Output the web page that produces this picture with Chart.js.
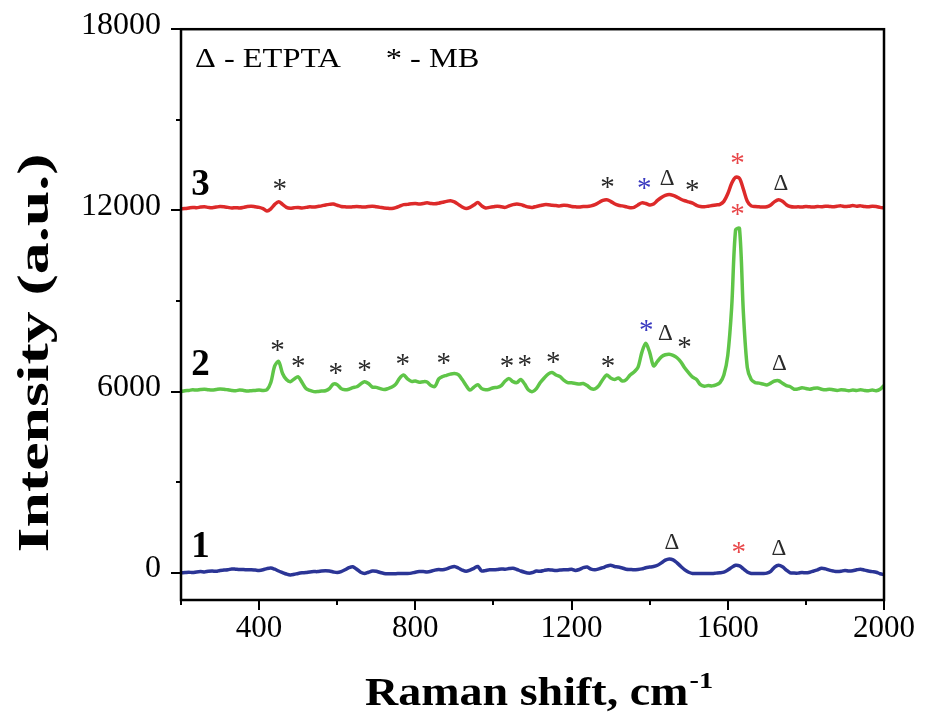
<!DOCTYPE html>
<html>
<head>
<meta charset="utf-8">
<script src="https://cdn.jsdelivr.net/npm/chart.js@4/dist/chart.umd.min.js"></script>
<style>
  html, body { margin: 0; padding: 0; background: #fff; }
  #wrap { width: 934px; height: 716px; }
</style>
</head>
<body>
<div id="wrap"><canvas id="c" width="934" height="716"></canvas></div>
<script>
// Raman shift sampling (cm^-1), 200 … 2000 every 10
const shift = Array.from({ length: 181 }, (_, i) => 200 + 10 * i);

// Spectrum 1 (blue)
const spectrum1 = [
  0, 10, 20, 10, 30, 40, 30, 50, 60, 50,
  80, 90, 100, 130, 120, 110, 110, 100, 100, 90,
  80, 100, 140, 160, 120, 60, 10, -40, -70, -50,
  -20, 0, 10, 30, 40, 40, 60, 70, 60, 30,
  10, 40, 100, 170, 200, 120, 20, -20, 20, 60,
  50, 10, -20, -30, -30, -30, -20, -20, -20, -10,
  20, 40, 40, 30, 50, 90, 110, 100, 130, 180,
  210, 160, 90, 50, 90, 150, 210, 60, 80, 100,
  100, 110, 130, 120, 140, 150, 110, 60, 20, -10,
  10, 60, 50, 80, 100, 90, 80, 90, 100, 100,
  120, 80, 110, 170, 190, 120, 100, 130, 170, 220,
  250, 210, 190, 160, 120, 110, 100, 110, 130, 170,
  190, 210, 250, 330, 420, 460, 430, 330, 210, 100,
  20, -20, -20, -20, -20, -20, -20, -10, 0, 20,
  90, 180, 250, 230, 130, 30, -20, -20, -20, -20,
  -10, 50, 190, 250, 200, 90, 0, -10, -10, 10,
  0, 20, 60, 100, 150, 130, 90, 60, 40, 50,
  80, 60, 70, 100, 120, 90, 60, 40, 20, -30,
  -60
];

// Spectrum 2 (green)
const spectrum2 = [
  6000, 6030, 6040, 6060, 6050, 6070, 6080, 6060, 6050, 6070,
  6090, 6080, 6060, 6040, 6030, 6050, 6040, 6020, 6030, 6040,
  6050, 6040, 6060, 6300, 6850, 7000, 6600, 6400, 6330, 6420,
  6490, 6300, 6100, 6040, 6000, 6000, 6020, 6030, 6100, 6250,
  6230, 6100, 6060, 6080, 6130, 6160, 6250, 6330, 6270, 6150,
  6140, 6100, 6070, 6100, 6150, 6250, 6450, 6550, 6420, 6340,
  6350, 6310, 6330, 6320, 6200, 6170, 6420, 6500, 6540, 6580,
  6600, 6560, 6400, 6200, 6050, 6150, 6230, 6100, 6060, 6080,
  6130, 6140, 6200, 6350, 6430, 6330, 6300, 6400, 6250, 6050,
  6000, 6100, 6300, 6450, 6580, 6630, 6550, 6500, 6380, 6300,
  6290, 6270, 6250, 6270, 6200, 6100, 6090, 6200, 6400, 6550,
  6450, 6400, 6450, 6350, 6400, 6550, 6650, 6800, 7300, 7600,
  7300, 6850, 7000, 7150, 7220, 7240, 7200, 7120, 6980, 6780,
  6620, 6480, 6400, 6230, 6180, 6200, 6190, 6220, 6300, 6550,
  7200, 8800, 11350, 11400, 8600, 6800, 6400, 6300, 6280, 6250,
  6220, 6280, 6350, 6360, 6280, 6200, 6160, 6080, 6090, 6130,
  6100, 6080, 6110, 6120, 6080, 6060, 6080, 6060, 6040, 6060,
  6050, 6030, 6050, 6040, 6060, 6040, 6030, 6050, 6030, 6080,
  6200
];

// Spectrum 3 (red)
const spectrum3 = [
  12050, 12060, 12080, 12100, 12090, 12110, 12120, 12100, 12090, 12110,
  12130, 12120, 12100, 12080, 12090, 12080, 12100, 12130, 12140, 12120,
  12100, 12060, 11980, 12050, 12200, 12290, 12200, 12100, 12070, 12090,
  12100, 12080, 12100, 12120, 12110, 12130, 12150, 12180, 12200, 12210,
  12170, 12130, 12120, 12110, 12120, 12130, 12120, 12110, 12130, 12140,
  12120, 12100, 12080, 12070, 12060, 12090, 12140, 12190, 12200, 12220,
  12230, 12210, 12230, 12250, 12230, 12220, 12240, 12270, 12300, 12320,
  12280, 12200, 12110, 12060, 12100, 12180, 12260, 12150, 12080, 12100,
  12120, 12140, 12120, 12100, 12150, 12190, 12210, 12190, 12150, 12110,
  12100, 12130, 12160, 12190, 12190, 12170, 12160, 12150, 12170, 12160,
  12130, 12120, 12110, 12130, 12130, 12150, 12190, 12260, 12330, 12350,
  12300, 12220, 12170, 12150, 12120, 12090, 12100, 12180, 12250, 12230,
  12180, 12210, 12330, 12430, 12500, 12530, 12500, 12440, 12370, 12320,
  12280, 12240, 12170, 12130, 12120, 12140, 12160, 12180, 12200, 12300,
  12550, 12900, 13100, 13060, 12700, 12300, 12150, 12130, 12120, 12110,
  12120, 12180, 12290, 12350, 12300, 12190, 12130, 12110, 12120, 12110,
  12130, 12120, 12110, 12130, 12120, 12140, 12130, 12120, 12140, 12150,
  12130, 12140, 12160, 12140, 12150, 12130, 12120, 12140, 12130, 12100,
  12080
];

// Trace numbers printed at the left of each spectrum
const traceNames = ['1', '2', '3'];
const traceNameShift = [250, 250, 250];
const traceNameLevel = [880, 6890, 12870];

// Band assignments: * = MB, Δ = ETPTA  [shift, level, glyph, colour key]
const bandShift = [453, 1292, 1386, 1445, 1509, 1625, 1736,
                   447, 500, 596, 670, 768, 873, 1035, 1080, 1153, 1293, 1391, 1440, 1489, 1625, 1732,
                   1457, 1628, 1731];
const bandLevel = [12740, 12780, 12750, 12950, 12680, 13600, 12780,
                   7390, 6870, 6630, 6740, 6930, 6960, 6850, 6900, 7010, 6870, 8050, 7830, 7480, 11910, 6850,
                   915, 700, 700];
const bandGlyph = ['*', '*', '*', 'Δ', '*', '*', 'Δ',
                   '*', '*', '*', '*', '*', '*', '*', '*', '*', '*', '*', 'Δ', '*', '*', 'Δ',
                   'Δ', '*', 'Δ'];
const bandTone = ['k', 'k', 'b', 'k', 'k', 'r', 'k',
                  'k', 'k', 'k', 'k', 'k', 'k', 'k', 'k', 'k', 'k', 'b', 'k', 'k', 'r', 'k',
                  'k', 'r', 'k'];

// Axis ticks
const xTickValues = [200, 400, 600, 800, 1000, 1200, 1400, 1600, 1800, 2000];
const xMajorTicks = [400, 800, 1200, 1600, 2000];
const yTickValues = [0, 3000, 6000, 9000, 12000, 15000, 18000];
const yMajorTicks = [0, 6000, 12000, 18000];

const SERIF = '"Liberation Serif", "Times New Roman", serif';
const toneColour = { k: '#2a2a2a', b: '#3a3ac0', r: '#e8474a' };

const pts = arr => arr.map((v, i) => ({ x: shift[i], y: v }));

const framePlugin = {
  id: 'frame',
  afterDraw(chart) {
    const { ctx, chartArea: a, scales: { x, y } } = chart;
    ctx.save();
    ctx.strokeStyle = '#000';
    ctx.lineWidth = 2.5;
    // box
    ctx.strokeRect(a.left, a.top, a.right - a.left, a.bottom - a.top);
    // tick marks (major long, minor short), pointing outward
    ctx.lineWidth = 2;
    x.ticks.forEach(t => {
      const px = Math.round(x.getPixelForValue(t.value));
      const len = xMajorTicks.includes(t.value) ? 10 : 5;
      ctx.beginPath(); ctx.moveTo(px, a.bottom); ctx.lineTo(px, a.bottom + len); ctx.stroke();
    });
    y.ticks.forEach(t => {
      const py = Math.round(y.getPixelForValue(t.value));
      const len = yMajorTicks.includes(t.value) ? 10 : 5;
      ctx.beginPath(); ctx.moveTo(a.left, py); ctx.lineTo(a.left - len, py); ctx.stroke();
    });

    // band assignment glyphs
    ctx.textAlign = 'center';
    ctx.textBaseline = 'alphabetic';
    bandShift.forEach((s, i) => {
      const g = bandGlyph[i];
      const size = g === '*' ? 29 : 23;
      ctx.font = `${size}px ${SERIF}`;
      ctx.fillStyle = toneColour[bandTone[i]];
      const cy = y.getPixelForValue(bandLevel[i]);
      const base = g === '*' ? cy + 0.5 * size - 5 : cy + 0.33 * size - 4;
      ctx.fillText(g, x.getPixelForValue(s), base);
    });

    // trace numbers
    ctx.font = `bold 37px ${SERIF}`;
    ctx.fillStyle = '#000';
    traceNames.forEach((t, i) => {
      const cy = y.getPixelForValue(traceNameLevel[i]);
      ctx.fillText(t, x.getPixelForValue(traceNameShift[i]), cy + 0.34 * 37 - 2);
    });

    // key
    ctx.textAlign = 'left';
    ctx.font = `27px ${SERIF}`;
    ctx.save();
    ctx.translate(195, 67);
    ctx.scale(1.2, 1);
    ctx.fillText('Δ - ETPTA', 0, 0);
    ctx.fillText('* - MB', 159, 0);
    ctx.restore();

    // x title with superscript
    ctx.save();
    ctx.font = `bold 39px ${SERIF}`;
    const main = 'Raman shift, cm';
    ctx.translate(365, 705);
    ctx.scale(1.18, 1);
    ctx.fillText(main, 0, 0);
    const w = ctx.measureText(main).width;
    ctx.font = `bold 24px ${SERIF}`;
    ctx.fillText('-1', w + 1, -17);
    ctx.restore();

    // y title
    ctx.save();
    ctx.font = `bold 44px ${SERIF}`;
    ctx.translate(48, 353);
    ctx.rotate(-Math.PI / 2);
    ctx.scale(1.45, 1);
    ctx.textAlign = 'center';
    ctx.fillText('Intensity (a.u.)', 0, 0);
    ctx.restore();

    ctx.restore();
  }
};

new Chart(document.getElementById('c'), {
  type: 'line',
  data: {
    datasets: [
      { label: '1', data: pts(spectrum1), borderColor: '#2b3596', borderWidth: 3.5 },
      { label: '2', data: pts(spectrum2), borderColor: '#5fc548', borderWidth: 3.5 },
      { label: '3', data: pts(spectrum3), borderColor: '#dd2a2a', borderWidth: 3.5 }
    ]
  },
  options: {
    responsive: false,
    animation: false,
    events: [],
    layout: { padding: { left: 0, top: 22, right: 50, bottom: 0 } },
    elements: { point: { radius: 0 }, line: { tension: 0.3, borderJoinStyle: 'round', borderCapStyle: 'round' } },
    plugins: { legend: { display: false }, tooltip: { enabled: false } },
    scales: {
      x: {
        type: 'linear', min: 200, max: 2000,
        afterFit: s => { s.height = 116; },
        afterBuildTicks: s => { s.ticks = xTickValues.map(v => ({ value: v })); },
        border: { display: false },
        grid: { display: true, drawOnChartArea: false, drawTicks: true, tickLength: 10, color: 'rgba(0,0,0,0)' },
        ticks: {
          padding: 0, color: '#000', maxRotation: 0, autoSkip: false,
          font: { family: SERIF, size: 31 },
          callback: v => (xMajorTicks.includes(v) ? String(v) : '')
        }
      },
      y: {
        type: 'linear', min: -900, max: 18000,
        afterFit: s => { s.width = 181; },
        afterBuildTicks: s => { s.ticks = yTickValues.map(v => ({ value: v })); },
        border: { display: false },
        grid: { display: true, drawOnChartArea: false, drawTicks: true, tickLength: 10, color: 'rgba(0,0,0,0)' },
        ticks: {
          padding: 10, labelOffset: -4, color: '#000', autoSkip: false,
          font: { family: SERIF, size: 32 },
          callback: v => (yMajorTicks.includes(v) ? String(v) : '')
        }
      }
    }
  },
  plugins: [framePlugin]
});
</script>
</body>
</html>
